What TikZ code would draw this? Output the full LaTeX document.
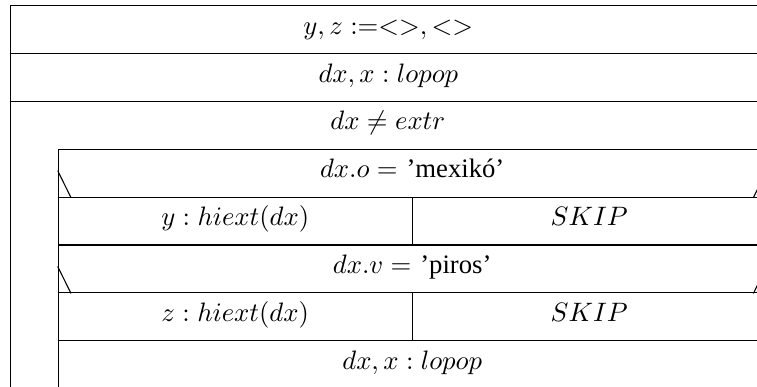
\documentclass[tikz,border=0pt]{standalone}
\usepackage[no-math]{fontspec}
\newfontfamily\quotefont{Liberation Serif}
\usetikzlibrary{calc}
\newcommand{\px}{0.375pt}
\tikzset{
    cell/.style={
        rectangle,
        draw=black,
        anchor=north west,
        inner sep=0pt,
        minimum height=47.9*\px,
        text height=6.5pt,
        text depth=2.9pt
    },
    condtext/.style={
        anchor=base,
        inner sep=0pt
    },
    branchmark/.style={
        draw=black
    }
}

\begin{document}
\begin{tikzpicture}[x=\px, y=-\px]
\useasboundingbox (0,0) rectangle (757,387);
\clip (0,0) rectangle (757,387);

\node[cell, minimum width=755.6*\px] (init) at (10,5) {$y, z :=<>, <>$};
\node[cell, minimum width=755.6*\px] (read) at (10,52.9) {$dx, x : lopop$};

% loop
\node[cell, minimum width=755.6*\px, minimum height=300*\px] (loop) at (10,100.8) {};
\node[condtext] (cond) at (387.8,129.4) {$dx \neq extr$};

% first branch
\node[cell, minimum width=707.9*\px] (ifo) at (57.7,148.7) {$dx.o =$ {\quotefont ’mexikó’}};
\node[cell, minimum width=354*\px] (sety) at (57.7,196.6) {$y : hiext(dx)$};
\node[cell, minimum width=353.9*\px] (skipo) at (411.7,196.6) {$SKIP$};
\draw[branchmark] ($(ifo.south west)+(0,-27)$) -- ($(ifo.south west)+(13.3,0)$);
\draw[branchmark] ($(ifo.south east)+(-13.3,0)$) -- ($(ifo.south east)+(0,-27)$);

% second branch
\node[cell, minimum width=707.9*\px] (ifv) at (57.7,244.5) {$dx.v =$ {\quotefont ’piros’}};
\node[cell, minimum width=354*\px] (setz) at (57.7,292.4) {$z : hiext(dx)$};
\node[cell, minimum width=353.9*\px] (skipv) at (411.7,292.4) {$SKIP$};
\draw[branchmark] ($(ifv.south west)+(0,-27)$) -- ($(ifv.south west)+(13.3,0)$);
\draw[branchmark] ($(ifv.south east)+(-13.3,0)$) -- ($(ifv.south east)+(0,-27)$);

\node[cell, minimum width=707.9*\px] (next) at (57.7,340.3) {$dx, x : lopop$};
\end{tikzpicture}
\end{document}
